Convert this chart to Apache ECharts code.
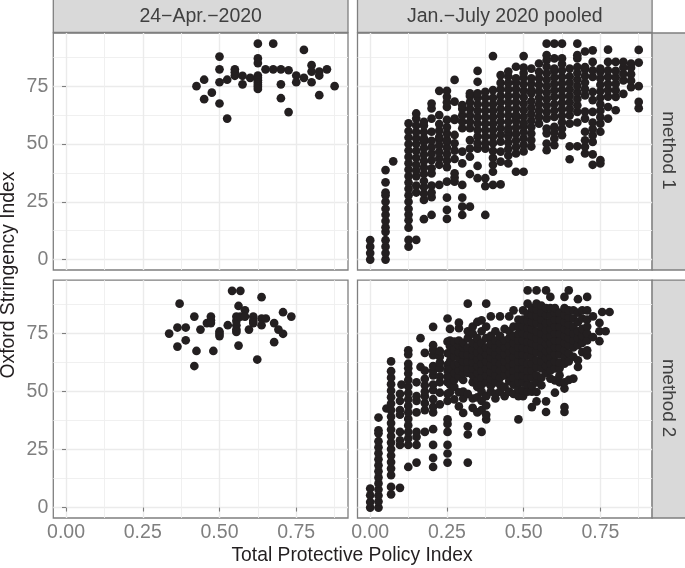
<!DOCTYPE html>
<html><head><meta charset="utf-8">
<style>html,body{margin:0;padding:0;background:#fff}#c{width:685px;height:568px}</style>
<script src="https://cdn.jsdelivr.net/npm/echarts@6/dist/echarts.min.js"></script>
</head><body><div id="c"></div>
<script>
const panelTitles = ['24\u2212Apr.\u22122020', 'Jan.\u2212July 2020 pooled'];
const rowTitles = ['method 1', 'method 2'];
const xTitle = 'Total Protective Policy Index';
const yTitle = 'Oxford Stringency Index';
const xMajor = [0, 0.25, 0.5, 0.75];
const xMinor = [0.125, 0.375, 0.625, 0.875];
const yMajor = [0, 25, 50, 75];
const yMinor = [12.5, 37.5, 62.5, 87.5];

const april1 = [[.425,75],[.45,77.8],[.45,69.4],[.475,72.2],[.5,87.8],[.5,82.3],[.5,76.7],[.5,67.5],[.525,77.8],[.525,61],
[.55,82.3],[.55,81],[.55,79.5],[.575,79.5],[.575,75.8],[.6,78.6],[.625,93.4],[.625,87],[.625,85],[.625,79.6],[.625,78.6],[.625,77.6],[.625,76.6],[.625,75.6],[.625,74.7],[.625,73.8],
[.65,82.3],[.675,93.4],[.675,82.3],[.7,82.3],[.7,75.8],[.7,69.8],[.725,81.9],[.725,63.8],[.75,79.6],[.75,76.7],[.775,90.7],[.775,78.6],
[.8,84.1],[.8,81.3],[.8,76.7],[.825,81.3],[.825,79.6],[.825,71.1],[.85,82.3],[.875,75]];

const april2 = [[.336,75],[.363,77.6],[.363,69.4],[.37,87.9],[.39,77.6],[.39,72.1],[.418,82.3],[.418,61],[.425,67.5],[.438,76.7],
[.459,79.5],[.472,82.3],[.472,80.7],[.472,79.5],[.48,67.5],[.5,75.9],[.5,74.9],[.5,73.9],[.527,78.6],[.541,93.4],
[.555,82.3],[.555,80.5],[.555,78.6],[.555,76.7],[.555,75.7],[.568,93.4],[.562,86.9],[.562,69.8],[.568,82.3],[.583,85],[.583,82.3],[.596,76.7],
[.61,82.3],[.61,80.5],[.61,79.5],[.623,63.8],[.637,90.7],[.637,81.5],[.637,78.6],[.651,81.5],[.678,79.5],[.678,71.3],[.692,76.7],[.707,84.2],[.707,74.9],[.734,82.3]];

const pooled1X = [0,.05,.075,.125,.15,.175,.2,.225,.25,.275,.3,.325,.35,.375,.4,.425,.45,.475,.5,.525,.55,.575,.6,.625,.65,.675,.7,.725,.75,.775,.8,.825,.85,.875];
const pooled1Y = [
[0,2.8,5.6,8.4],
[0,2.8,5.6,8.4,12,14,16.7,19.4,22,25,27.8,29,33.4,38.7],
[42.5],
[5.6,8.5,13.8,17,19.5,22,25,27.8,30.6,33.3,36.1,38.9,41.7,44.4,47.2,50,52.8,55.6,58.9],
[8.5,29,32,36,38.5,41,44,47,50,52.4,55.2,58,61,63.2],
[17.5,25.8,28.6,31.4,34,37,39.8,42.6,45.4,48.2,51,52.4,55.2,58,59.6],
[19.3,27,29,32,37.3,39.5,43,45.8,48.6,51.4,55.3,61,65.4,67.5],
[32.3,41,43.8,46.6,49.4,52,53,55.8,58.6,62.5,73],
[17.6,21.5,26.8,33.7,40,42.8,45.6,48.4,51,51.7,54.5,57.3,60.4,66,68,70.4,73],
[33.7,35.5,37.3,43.5,47.1,50.3,53.9,60.4,61,68.3,77.7],
[19.3,22.9,26.8,32.3,41.6,46.7,56.8,59.6,62.4,65.2,66.8],
[22.9,37,44.5,48,51.7,56.8,59.6,62.4,65.2,68,70.8,71.9],
[35.2,40.5,48,50.3,53.2,56,58.8,61.6,64.4,67.2,70,71.9,76.9,81.6],
[19.3,31.8,35.2,48,50.3,53.2,56,58.8,61.6,64.4,67.2,70,72.6],
[32.3,38,41,44,47,50.3,53.2,56,58.8,61.6,64.4,67.2,70,73.3,88],
[32.5,42.4,46.7,51,54,56.8,59.6,62.4,65.2,68,70.8,73.6,76.4,79.8],
[41.6,45,47.8,50.6,53.4,55.3,56.8,59.6,62.4,65.2,68,70.8,73.6,76.4,79.2,81.3],
[38,45.9,48.7,51.5,54.3,57.1,59.9,61.7,62.5,65.3,68.1,70.9,73.7,76.5,78.4,83.4],
[38,46.8,49.6,52.4,55.2,57.6,59,61.8,64.6,67.4,70.2,73,75.8,78.6,80.7,83,88],
[48.9,51.7,54.5,57.3,60.1,62.9,65.7,68.5,71.9,73.3,76,78.4,82.6],
[58.8,61.6,64.4,67.2,70,72.8,75.6,78.4,81.2,84.8],
[47.3,50.2,54.6,56.7,61,63.8,66.6,69.4,72.2,75,77.8,80.6,83.4,86.2,88.4,93.4],
[49.5,52.3,55,57.4,61.7,64.5,67.3,70.4,73.2,76,78.8,81.6,82.6,87,93.4],
[53.8,56.6,59.4,62.2,65,67.8,70.6,73.4,76.2,79,81.8,84.6,87,93.4],
[43.4,49,58.8,62.4,65.2,68,70.8,73.6,76.4,79.2,82.6],
[49,59.3,63.9,66.7,69.5,72.3,75.1,77.9,80.7,83.3,87,88.4,93.4],
[45.9,48.8,51.6,55.3,61,64,71,73.8,76.6,79.4,82.2,83.3,90],
[41,45.5,50.9,53.7,56.5,59.3,63.9,69,72.5,79,81.8,85.5,90.5],
[41.6,43,55.3,58.8,61.6,64.4,67.2,70,72.8,75.6,78.4,81.2,82.6],
[61,66,70.5,73.3,76,79,81.8,85.5,90.8],
[64.6,70.4,73.2,76,78.8,81.6,85.5],
[71.7,77.5,80.3,83.1,85.5],
[74.6,77.4,80.2,83,84.8],
[65.5,68.2,75,85.2,90.7]
];

const pooled2X = [0,.027,.053,.068,.097,.102,.124,.151,.164,.178,.205,.227,.252,
.26,.274,.289,.303,.318,.334,.349,.363,.378,.393,.408,.423,.438,.453,.467,.483,.498,.513,.527,.542,.558,.573,.587,.602,.617,.633,.647,.662,.677,.691,.707,.726,.747,.756,.767,.78];
const pooled2Y = [
[0,2.4,5.3,8.2],
[0,2.6,5.2,7.8,10.4,13,15.6,18.2,20.8,23.4,26,28.6,32,33.3,38.8],
[42.7],
[5.7,8.9,14,16.8,19.6,22.4,25.2,28,30.8,33.6,36.4,39.2,42,44.8,47.6,50.4,53.2,56,58.8,63],
[8.5,27,29,32.6,40,42,46,49],
[53],
[17.5,27,29.8,32.6,35.4,38.2,41,43.8,46.6,49.4,52.2,55,57.8,60,62,66,67.8],
[19.4,27,30.5,32.6,41,46,48,54],
[60.6,73],
[32.6,42,45,48,50,52.7,55.5,59,66.7],
[17.5,21.4,27,33.8,41,43.4,46.7,50.6,53,57,59,61,65.7,68,70,77.9],
[44.5,49.5,54,56.5,60,62.5,65,67.5],
[19.4,23.3,27,32.6,36,38,46,49,54,56.5,59,61.5,66.5,71.5,81.5],
[49.7,53,56,60,63,66,69.5,72,77],
[46.6,52,55,58,61.5,65,68,71.5],
[43.6,49.7,56.5,59,62,64.5,67,70,72,77.3,79.7],
[40.8,47,50,55,58,60.5,63,66,69,71],
[19.4,31.5,35,49,58,60,63,66,69,73,76,87.9],
[43,47,54,57,60,62.5,65.5,68,71,75,78],
[41,47.5,52,55,58,61,64,67,70,73,80],
[32.6,42,46,50,53,56,59,62,65,68,71,76,80.7],
[38,40,44,48,54,57,60,63,66,69,73,78,87.9],
[50,52.5,55.5,58.5,61.5,64.5,67.5,70.5,74,82.4],
[47,49,54,57,60,63,66,69,72,76],
[50,53,56,59,62,65,68,71,74,82.4],
[48,52,57,60,63,66,69,72,77],
[50,54.5,58,61,64,67,70,73,76,82.4],
[49,53,56,59,62,65,68,71,74,78,85],
[38,48,51,54,57,60,63,66,69,72,75,78,81],
[48,50.5,54,57,60,63,66,69,72,75,78,81,85],
[50,53,56,59,62,65.5,68.5,71.5,74.5,77.5,80.5,83.5,87.9,93.6],
[43.3,50,52.5,56,59,62,65,68,71,74,77,80,83,86],
[45.8,49.8,54,57,60.5,63.5,67,70,73,76,79.5,82.5,85.5,87.9,93.6],
[52.7,56,60,63,66,69,72,75,78,81,84,87],
[41.2,45.8,58,61,64.5,67.5,70.5,73.5,76.5,79.5,83,86,93.6],
[55.6,59,62,65,68,71,74,77,80,83,86,90.8],
[49.5,54.8,60,63,66,69,72,75,78,81,84,86],
[54,57,60,62.5,66,69,72,75,78,81,84],
[41.2,43.3,51.3,54,62,65,68,71,74,77,80,83,86,90.8],
[55,63,66.5,70,73,76,79,82,85,93.6],
[55.6,65,69,72,75,78,81.5,85],
[60.6,63.5,70,73,76,80,84,89.8],
[67,71,74,77,81.5,85],
[65.6,67.8,72,75,78,81,85,90.8],
[73.5,82.4],
[71.7,76,79.6],
[84.3],
[76],
[84.3]
];

function flatten(xs, ys){
  const out = [];
  xs.forEach((x, i) => ys[i].forEach(y => out.push([x, y])));
  return out;
}

const strip = '#D9D9D9', border = '#7F7F7F', ink = '#231F20';
const gridX = [[53.3, 294.7], [357.5, 294.6]];
const gridY = [[33, 237], [280.2, 237.8]];
const grids = [], xAxes = [], yAxes = [], series = [];
const datasets = [[april1, flatten(pooled1X, pooled1Y)], [april2, flatten(pooled2X, pooled2Y)]];
const majorLine = {show: true, lineStyle: {color: '#EBEBEB', width: 1.4}};
const minorLine = {show: true, lineStyle: {color: '#EEEEEE', width: 0.9}};
const labelStyle = {fontFamily: 'Liberation Sans', fontSize: 19.5, color: '#7F7F7F'};

for (let r = 0; r < 2; r++) for (let c = 0; c < 2; c++) {
  const g = grids.length;
  grids.push({left: gridX[c][0], width: gridX[c][1], top: gridY[r][0], height: gridY[r][1],
    show: true, borderColor: border, borderWidth: 1.3, backgroundColor: '#fff', containLabel: false});
  const xBase = {type: 'value', gridIndex: g, min: -0.0414, max: 0.9186};
  const yBase = {type: 'value', gridIndex: g, min: -4.5, max: 98};
  xAxes.push(Object.assign({}, xBase, {position: 'bottom',
    axisLine: {show: false},
    axisTick: {show: r === 1, length: 4, customValues: xMajor, lineStyle: {color: border, width: 1.1}},
    axisLabel: Object.assign({show: r === 1, margin: 5, customValues: xMajor, formatter: v => v.toFixed(2)}, labelStyle),
    splitLine: majorLine}));
  xAxes.push(Object.assign({}, xBase, {position: 'top',
    axisLine: {show: false}, axisLabel: {show: false},
    axisTick: {show: false, customValues: xMinor}, splitLine: minorLine}));
  yAxes.push(Object.assign({}, yBase, {position: 'left',
    axisLine: {show: false},
    axisTick: {show: c === 0, length: 4, customValues: yMajor, lineStyle: {color: border, width: 1.1}},
    axisLabel: Object.assign({show: c === 0, margin: 5, customValues: yMajor}, labelStyle),
    splitLine: majorLine}));
  yAxes.push(Object.assign({}, yBase, {position: 'right',
    axisLine: {show: false}, axisLabel: {show: false},
    axisTick: {show: false, customValues: yMinor}, splitLine: minorLine}));
  series.push({type: 'scatter', xAxisIndex: xAxes.length - 2, yAxisIndex: yAxes.length - 2,
    data: datasets[r][c], symbol: 'circle', symbolSize: 8.7, silent: true,
    itemStyle: {color: ink, opacity: 1}, z: 5});
}

const stripText = {fontFamily: 'Liberation Sans', fontSize: 19.5, fill: '#404040', textAlign: 'center', textVerticalAlign: 'middle'};
const graphics = [];
panelTitles.forEach((t, i) => {
  graphics.push({type: 'rect', shape: {x: gridX[i][0], y: -2, width: gridX[i][1], height: 34.5},
    style: {fill: strip, stroke: border, lineWidth: 1.3}, silent: true});
  graphics.push({type: 'text', x: gridX[i][0] + gridX[i][1] / 2, y: 17, style: Object.assign({text: t}, stripText), silent: true});
});
rowTitles.forEach((t, i) => {
  graphics.push({type: 'rect', shape: {x: 652.1, y: gridY[i][0], width: 36, height: gridY[i][1]},
    style: {fill: strip, stroke: border, lineWidth: 1.3}, silent: true});
  graphics.push({type: 'text', x: 668, y: gridY[i][0] + gridY[i][1] / 2 - 1, rotation: -Math.PI / 2,
    style: Object.assign({text: t}, stripText, {fontSize: 18.8}), silent: true});
});
const titleStyle = {fontFamily: 'Liberation Sans', fontSize: 19.3, fill: '#231F20', textAlign: 'center', textVerticalAlign: 'middle'};
graphics.push({type: 'text', x: 352, y: 556, style: Object.assign({text: xTitle}, titleStyle), silent: true});
graphics.push({type: 'text', x: 9, y: 275, rotation: Math.PI / 2, style: Object.assign({text: yTitle}, titleStyle), silent: true});

const chart = echarts.init(document.getElementById('c'), null, {renderer: 'canvas', width: 685, height: 568});
chart.setOption({animation: false, backgroundColor: '#fff', grid: grids, xAxis: xAxes, yAxis: yAxes, series, graphic: graphics});
</script></body></html>
